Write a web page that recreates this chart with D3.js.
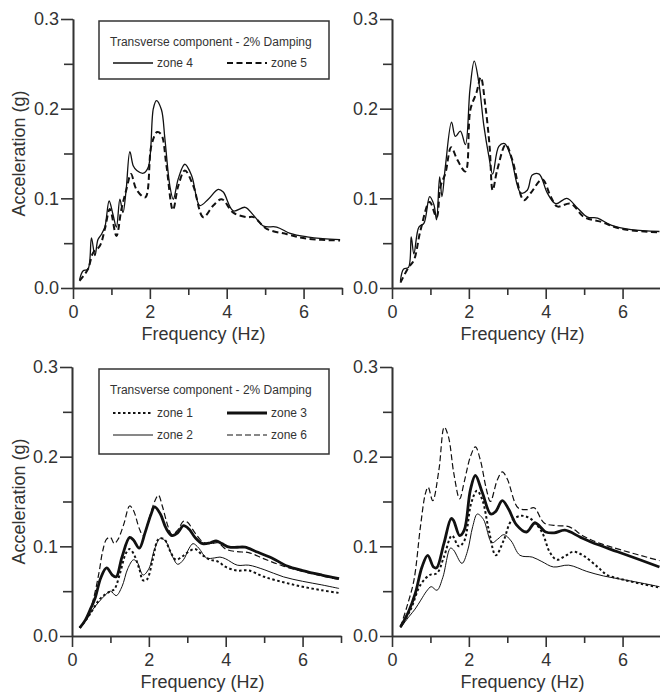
<!DOCTYPE html>
<html>
<head>
<meta charset="utf-8">
<script src="https://cdn.jsdelivr.net/npm/d3@7"></script>
<style>
  body { margin: 0; background: #fff; }
  svg text { font-family: "Liberation Sans", Arial, sans-serif; fill: #333; }
</style>
</head>
<body>
<div id="main"></div>
<script>
// frequency (Hz), acceleration (g) pairs
var topLeftZone4 = [[0.17,0.009],[0.26,0.019],[0.39,0.021],[0.48,0.056],[0.57,0.036],[0.65,0.054],[0.74,0.060],[0.83,0.068],[0.94,0.097],[1.04,0.082],[1.13,0.068],[1.22,0.099],[1.30,0.084],[1.38,0.108],[1.48,0.152],[1.57,0.136],[1.66,0.131],[1.83,0.128],[1.96,0.135],[2.09,0.200],[2.17,0.209],[2.30,0.199],[2.39,0.167],[2.52,0.114],[2.61,0.099],[2.74,0.122],[2.91,0.138],[3.09,0.125],[3.30,0.092],[3.52,0.099],[3.78,0.110],[3.91,0.107],[4.17,0.086],[4.48,0.090],[4.70,0.081],[4.96,0.069],[5.30,0.068],[5.65,0.061],[6.09,0.057],[6.50,0.055],[6.95,0.054]];
var topLeftZone5 = [[0.17,0.008],[0.39,0.021],[0.52,0.039],[0.70,0.047],[0.83,0.066],[0.96,0.088],[1.13,0.058],[1.26,0.088],[1.39,0.110],[1.51,0.127],[1.65,0.110],[1.88,0.101],[2.04,0.159],[2.19,0.174],[2.30,0.171],[2.43,0.137],[2.60,0.087],[2.74,0.114],[2.91,0.131],[3.13,0.114],[3.39,0.079],[3.65,0.092],[3.87,0.099],[4.17,0.084],[4.52,0.079],[4.70,0.079],[5.04,0.066],[5.57,0.060],[6.09,0.055],[6.95,0.053]];

var topRightZone4 = [[0.22,0.008],[0.30,0.021],[0.43,0.023],[0.50,0.057],[0.57,0.038],[0.70,0.068],[0.83,0.072],[0.98,0.102],[1.09,0.093],[1.16,0.076],[1.24,0.124],[1.30,0.102],[1.39,0.136],[1.55,0.185],[1.65,0.169],[1.78,0.175],[1.91,0.160],[2.03,0.222],[2.14,0.253],[2.26,0.229],[2.39,0.181],[2.52,0.147],[2.62,0.127],[2.78,0.158],[2.93,0.161],[3.09,0.147],[3.35,0.106],[3.52,0.109],[3.65,0.126],[3.83,0.127],[4.04,0.106],[4.26,0.094],[4.55,0.100],[4.83,0.089],[5.09,0.079],[5.35,0.078],[5.70,0.070],[6.22,0.065],[6.96,0.063]];
var topRightZone5 = [[0.22,0.006],[0.43,0.023],[0.57,0.031],[0.74,0.064],[0.98,0.096],[1.16,0.079],[1.26,0.113],[1.39,0.128],[1.54,0.157],[1.70,0.143],[1.91,0.130],[2.04,0.199],[2.20,0.218],[2.31,0.235],[2.43,0.203],[2.54,0.158],[2.62,0.109],[2.74,0.132],[2.96,0.160],[3.13,0.143],[3.43,0.098],[3.61,0.106],[3.91,0.121],[4.13,0.102],[4.30,0.091],[4.65,0.094],[5.00,0.079],[5.43,0.074],[5.96,0.066],[6.96,0.062]];

var bottomLeftZone1 = [[0.2,0.009],[0.4,0.020],[0.55,0.030],[0.7,0.040],[0.85,0.046],[1.0,0.050],[1.1,0.052],[1.25,0.070],[1.4,0.092],[1.5,0.097],[1.6,0.092],[1.75,0.075],[1.85,0.062],[1.95,0.063],[2.1,0.085],[2.25,0.108],[2.4,0.108],[2.55,0.095],[2.7,0.085],[2.85,0.088],[3.0,0.093],[3.2,0.097],[3.4,0.090],[3.6,0.085],[3.8,0.083],[4.0,0.077],[4.3,0.073],[4.6,0.073],[5.0,0.066],[5.5,0.060],[6.0,0.055],[6.5,0.051],[6.95,0.048]];
var bottomLeftZone2 = [[0.2,0.009],[0.4,0.020],[0.55,0.030],[0.7,0.038],[0.85,0.045],[1.0,0.050],[1.15,0.045],[1.3,0.055],[1.45,0.075],[1.6,0.085],[1.7,0.082],[1.85,0.068],[2.0,0.075],[2.15,0.097],[2.3,0.109],[2.45,0.105],[2.6,0.090],[2.75,0.080],[2.9,0.085],[3.05,0.098],[3.15,0.103],[3.3,0.098],[3.5,0.087],[3.7,0.087],[3.85,0.088],[4.0,0.086],[4.3,0.079],[4.6,0.079],[5.0,0.074],[5.5,0.066],[6.0,0.061],[6.5,0.057],[6.95,0.053]];
var bottomLeftZone3 = [[0.2,0.009],[0.35,0.018],[0.5,0.032],[0.6,0.042],[0.75,0.065],[0.9,0.076],[1.05,0.068],[1.15,0.066],[1.3,0.088],[1.5,0.110],[1.6,0.107],[1.75,0.098],[1.9,0.115],[2.05,0.135],[2.15,0.144],[2.3,0.136],[2.45,0.120],[2.6,0.112],[2.75,0.115],[2.9,0.123],[3.05,0.119],[3.2,0.110],[3.4,0.103],[3.6,0.104],[3.75,0.106],[3.9,0.103],[4.1,0.099],[4.3,0.099],[4.5,0.099],[4.8,0.094],[5.2,0.087],[5.6,0.078],[6.0,0.073],[6.5,0.068],[6.95,0.064]];
var bottomLeftZone6 = [[0.2,0.009],[0.4,0.020],[0.55,0.040],[0.7,0.070],[0.8,0.095],[0.9,0.108],[1.0,0.110],[1.1,0.103],[1.2,0.108],[1.35,0.125],[1.5,0.145],[1.6,0.140],[1.75,0.120],[1.85,0.112],[2.0,0.130],[2.15,0.150],[2.25,0.157],[2.35,0.145],[2.5,0.122],[2.6,0.113],[2.75,0.118],[2.9,0.128],[3.0,0.127],[3.2,0.115],[3.4,0.105],[3.6,0.103],[3.8,0.104],[4.0,0.097],[4.3,0.094],[4.6,0.093],[5.0,0.086],[5.5,0.078],[6.0,0.072],[6.5,0.067],[6.95,0.063]];

var bottomRightZone1 = [[0.22,0.010],[0.48,0.029],[0.74,0.057],[0.98,0.068],[1.17,0.070],[1.35,0.088],[1.56,0.112],[1.74,0.100],[1.88,0.106],[2.06,0.148],[2.21,0.162],[2.35,0.152],[2.52,0.118],[2.70,0.090],[2.91,0.107],[3.10,0.128],[3.35,0.134],[3.60,0.131],[3.90,0.116],[4.10,0.094],[4.29,0.085],[4.50,0.089],[4.72,0.094],[5.00,0.089],[5.35,0.077],[5.60,0.068],[6.00,0.063],[6.50,0.058],[6.96,0.054]];
var bottomRightZone2 = [[0.22,0.009],[0.45,0.022],[0.60,0.030],[0.75,0.040],[0.90,0.050],[1.02,0.055],[1.17,0.051],[1.32,0.065],[1.52,0.098],[1.60,0.096],[1.82,0.081],[1.96,0.094],[2.10,0.122],[2.22,0.136],[2.38,0.130],[2.60,0.104],[2.75,0.108],[2.91,0.113],[3.10,0.106],[3.33,0.090],[3.65,0.088],[3.90,0.083],[4.20,0.077],[4.60,0.079],[5.07,0.072],[5.50,0.067],[6.00,0.063],[6.50,0.059],[6.96,0.055]];
var bottomRightZone3 = [[0.22,0.010],[0.43,0.027],[0.61,0.048],[0.78,0.077],[0.93,0.090],[1.08,0.077],[1.16,0.076],[1.35,0.103],[1.54,0.131],[1.60,0.129],[1.76,0.112],[1.88,0.118],[2.04,0.163],[2.17,0.179],[2.35,0.160],[2.57,0.136],[2.70,0.139],[2.87,0.151],[3.04,0.141],[3.24,0.124],[3.50,0.116],[3.72,0.126],[4.00,0.116],[4.22,0.115],[4.50,0.118],[4.91,0.110],[5.35,0.102],[5.87,0.094],[6.96,0.077]];
var bottomRightZone6 = [[0.22,0.010],[0.39,0.033],[0.57,0.062],[0.74,0.122],[0.87,0.159],[0.94,0.166],[1.06,0.151],[1.22,0.185],[1.36,0.233],[1.47,0.222],[1.61,0.181],[1.76,0.153],[1.88,0.172],[2.04,0.200],[2.17,0.211],[2.30,0.196],[2.45,0.165],[2.56,0.150],[2.74,0.174],[2.87,0.183],[3.00,0.175],[3.28,0.143],[3.52,0.141],[3.70,0.143],[3.96,0.126],[4.30,0.123],[4.60,0.122],[5.00,0.111],[5.43,0.103],[5.96,0.096],[6.96,0.084]];

var xTickLabels = [0, 2, 4, 6];
var xMinorTicks = [1, 3, 5, 7];
var yTickLabels = [0, 0.1, 0.2, 0.3];
var yMinorTicks = [0.05, 0.15, 0.25];
var legendTitle = "Transverse component - 2% Damping";

// how each zone is drawn
var zoneStyle = {
    "zone 1": {width: 2, dash: "2.5,2.5"},
    "zone 2": {width: 1, dash: null},
    "zone 3": {width: 2.8, dash: null},
    "zone 4": {width: 1.3, dash: null},
    "zone 5": {width: 2, dash: "6,3.5"},
    "zone 6": {width: 1.2, dash: "6,3"}
};

var panels = [
    {left: 73, top: 19, yLabel: true, legend: [["zone 4", "zone 5"]],
     series: [["zone 4", topLeftZone4], ["zone 5", topLeftZone5]]},
    {left: 392, top: 19, yLabel: false, legend: null,
     series: [["zone 4", topRightZone4], ["zone 5", topRightZone5]]},
    {left: 72, top: 367, yLabel: true, legend: [["zone 1", "zone 3"], ["zone 2", "zone 6"]],
     series: [["zone 1", bottomLeftZone1], ["zone 2", bottomLeftZone2], ["zone 6", bottomLeftZone6], ["zone 3", bottomLeftZone3]]},
    {left: 392, top: 367, yLabel: false, legend: null,
     series: [["zone 1", bottomRightZone1], ["zone 2", bottomRightZone2], ["zone 6", bottomRightZone6], ["zone 3", bottomRightZone3]]}
];

var plotW = 269, plotH = 269;

var svg = d3.select("#main").append("svg")
    .attr("width", 660)
    .attr("height", 697);

panels.forEach(function (p) {
    var x = d3.scaleLinear().domain([0, 7]).range([0, plotW]);
    var y = d3.scaleLinear().domain([0, 0.3]).range([plotH, 0]);
    var g = svg.append("g").attr("transform", "translate(" + p.left + "," + p.top + ")");

    // axes: major ticks with labels, minor ticks without
    var xAxis = g.append("g").attr("transform", "translate(0," + plotH + ")")
        .call(d3.axisBottom(x).tickValues(xTickLabels).tickSize(11).tickPadding(5).tickSizeOuter(0).tickFormat(d3.format("d")));
    g.append("g").attr("transform", "translate(0," + plotH + ")")
        .call(d3.axisBottom(x).tickValues(xMinorTicks).tickSize(7).tickSizeOuter(0).tickFormat(""));
    var yAxis = g.append("g")
        .call(d3.axisLeft(y).tickValues(yTickLabels).tickSize(12).tickPadding(2).tickSizeOuter(0).tickFormat(d3.format(".1f")));
    g.append("g")
        .call(d3.axisLeft(y).tickValues(yMinorTicks).tickSize(9).tickSizeOuter(0).tickFormat(""));

    g.selectAll(".domain, .tick line").attr("stroke", "#333").attr("stroke-width", 1.6);
    g.selectAll(".tick text").attr("font-size", 18).attr("fill", "#333")
        .attr("font-family", "Liberation Sans, Arial, sans-serif");
    xAxis.selectAll(".tick text").attr("dy", "0.75em");

    g.append("text")
        .attr("x", plotW / 2 - 4)
        .attr("y", plotH + 52)
        .attr("text-anchor", "middle")
        .attr("font-size", 18)
        .text("Frequency (Hz)");

    if (p.yLabel) {
        g.append("text")
            .attr("transform", "translate(" + (25 - p.left) + "," + (plotH / 2) + ") rotate(-90)")
            .attr("text-anchor", "middle")
            .attr("font-size", 18)
            .text("Acceleration (g)");
    }

    var line = d3.line()
        .x(function (d) { return x(d[0]); })
        .y(function (d) { return y(d[1]); })
        .curve(d3.curveCatmullRom.alpha(0.5));

    p.series.forEach(function (s) {
        var st = zoneStyle[s[0]];
        g.append("path")
            .datum(s[1])
            .attr("d", line)
            .attr("fill", "none")
            .attr("stroke", "#111")
            .attr("stroke-width", st.width)
            .attr("stroke-dasharray", st.dash)
            .attr("stroke-linejoin", "round");
    });

    if (p.legend) {
        var lg = svg.append("g").attr("transform", "translate(99," + (p.top + 2) + ")");
        var boxH = p.legend.length == 1 ? 58 : 85;
        lg.append("rect")
            .attr("width", 230).attr("height", boxH)
            .attr("fill", "#fff").attr("stroke", "#333").attr("stroke-width", 1.5);
        lg.append("text").attr("x", 11).attr("y", 25).attr("font-size", 12).text(legendTitle);
        p.legend.forEach(function (row, r) {
            var yy = (p.legend.length == 1 ? 46 : 48) + r * 22;
            row.forEach(function (zone, c) {
                var sx = c == 0 ? 14 : 128;
                var st = zoneStyle[zone];
                lg.append("line")
                    .attr("x1", sx).attr("x2", sx + 40)
                    .attr("y1", yy - 4).attr("y2", yy - 4)
                    .attr("stroke", "#111")
                    .attr("stroke-width", st.width)
                    .attr("stroke-dasharray", st.dash);
                lg.append("text").attr("x", sx + 44).attr("y", yy).attr("font-size", 12).text(zone);
            });
        });
    }
});
</script>
</body>
</html>
